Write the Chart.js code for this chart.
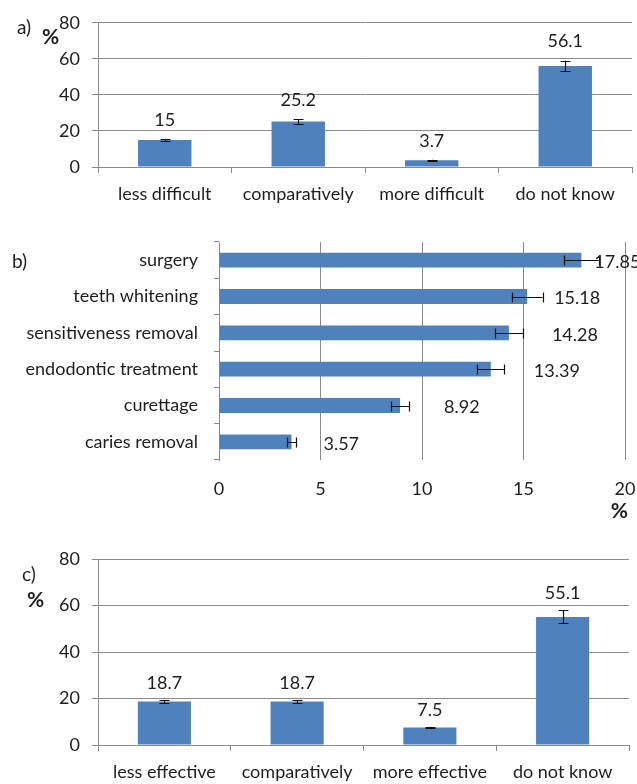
<!DOCTYPE html>
<html>
<head>
<meta charset="utf-8">
<script src="https://cdn.jsdelivr.net/npm/chart.js@4"></script>
<style>
  html, body { margin: 0; padding: 0; background: #fff; }
  body { width: 637px; height: 784px; position: relative; overflow: hidden; }
  canvas { position: absolute; left: 0; }
</style>
</head>
<body>
<canvas id="ca" width="637" height="210" style="top:0px"></canvas>
<canvas id="cb" width="637" height="320" style="top:210px"></canvas>
<canvas id="cc" width="637" height="254" style="top:530px"></canvas>
<script>
// ---------- DATA ----------
const aCategories = ['less difficult', 'comparatively', 'more difficult', 'do not know'];
const aValues = [15, 25.2, 3.7, 56.1];
const aErrors = [0.5, 1.2, 0.3, 2.9];

const bCategories = ['surgery', 'teeth whitening', 'sensitiveness removal', 'endodontic treatment', 'curettage', 'caries removal'];
const bValues = [17.85, 15.18, 14.28, 13.39, 8.92, 3.57];
const bErrors = [0.85, 0.76, 0.7, 0.67, 0.45, 0.22];

const cCategories = ['less effective', 'comparatively', 'more effective', 'do not know'];
const cValues = [18.7, 18.7, 7.5, 55.1];
const cErrors = [0.65, 0.65, 0.3, 2.8];

const verticalTicks = [0, 20, 40, 60, 80];
const horizontalTicks = [0, 5, 10, 15, 20];

// ---------- STYLE ----------
const FONT = 'Lato, "Open Sans", "Liberation Sans", sans-serif';
const FS = 18;
const BAR = '#4f81bd';
const GRID = '#8a8a8a';
const TEXT = '#1e1e1e';
const bLabelGap = [13, 27, 43, 43, 44, 32]; // label distance from bar end, px

Chart.defaults.font.family = FONT;
Chart.defaults.font.size = FS;
Chart.defaults.color = TEXT;
Chart.defaults.animation = false;

// plugin: error bars + value labels + panel annotations
const decorations = {
  id: 'decorations',
  afterDatasetsDraw(chart, args, opts) {
    const ctx = chart.ctx;
    const ds = chart.data.datasets[0];
    const meta = chart.getDatasetMeta(0);
    const horiz = chart.options.indexAxis === 'y';
    const vScale = horiz ? chart.scales.x : chart.scales.y;
    ctx.save();
    ctx.strokeStyle = '#111';
    ctx.lineWidth = 1.2;
    ctx.fillStyle = TEXT;
    ctx.font = FS + 'px ' + FONT;
    meta.data.forEach((bar, i) => {
      const v = ds.data[i], e = opts.errors[i];
      const lo = vScale.getPixelForValue(v - e), hi = vScale.getPixelForValue(v + e);
      ctx.beginPath();
      if (horiz) {
        const y = Math.round(bar.y) + 0.5;
        ctx.moveTo(lo, y); ctx.lineTo(hi, y);
        ctx.moveTo(Math.round(lo) + 0.5, y - 5); ctx.lineTo(Math.round(lo) + 0.5, y + 5);
        ctx.moveTo(Math.round(hi) + 0.5, y - 5); ctx.lineTo(Math.round(hi) + 0.5, y + 5);
      } else {
        const x = Math.round(bar.x) + 0.5;
        ctx.moveTo(x, lo); ctx.lineTo(x, hi);
        ctx.moveTo(x - 5, Math.round(lo) + 0.5); ctx.lineTo(x + 5, Math.round(lo) + 0.5);
        ctx.moveTo(x - 5, Math.round(hi) + 0.5); ctx.lineTo(x + 5, Math.round(hi) + 0.5);
      }
      ctx.stroke();
      // value label
      ctx.font = FS + 'px ' + FONT;
      if (horiz) {
        ctx.textAlign = 'left';
        ctx.textBaseline = 'middle';
        ctx.fillText(String(v), vScale.getPixelForValue(v) + opts.gaps[i], bar.y + 2);
      } else {
        ctx.textAlign = 'center';
        ctx.textBaseline = 'middle';
        ctx.fillText(String(v), bar.x, hi - opts.labelGap);
      }
    });
    // annotations
    (opts.texts || []).forEach(t => {
      ctx.font = (t.bold ? 'bold ' : '') + t.size + 'px ' + FONT;
      ctx.textAlign = t.align || 'left';
      ctx.textBaseline = 'middle';
      ctx.fillText(t.text, t.x, t.y);
    });
    ctx.restore();
  }
};

function verticalChart(id, cats, vals, errs, axisW, padTop, padRight, xAxisH, texts, labelGap) {
  return new Chart(document.getElementById(id), {
    type: 'bar',
    data: { labels: cats, datasets: [{ data: vals, backgroundColor: BAR, borderWidth: 0,
      barPercentage: 0.4, categoryPercentage: 1 }] },
    options: {
      responsive: false,
      layout: { padding: { top: padTop, right: padRight, left: 0, bottom: 0 } },
      plugins: { legend: { display: false }, tooltip: { enabled: false },
        decorations: { errors: errs, labelGap: labelGap, texts: texts } },
      scales: {
        x: {
          grid: { offset: true, drawOnChartArea: false, color: GRID, tickLength: 6 },
          border: { color: GRID },
          ticks: { padding: 10, font: { size: FS }, maxRotation: 0, autoSkip: false },
          afterFit: s => { s.height = xAxisH; }
        },
        y: {
          min: 0, max: 80,
          afterBuildTicks: s => { s.ticks = verticalTicks.map(v => ({ value: v })); },
          grid: { color: GRID, tickLength: 6 },
          border: { color: GRID },
          ticks: { padding: 12, font: { size: FS } },
          afterFit: s => { s.width = axisW; }
        }
      }
    },
    plugins: [decorations]
  });
}

// a)
verticalChart('ca', aCategories, aValues, aErrors, 98, 17, 5, 43, [
  { text: 'a)', x: 17, y: 28, size: 19 },
  { text: '%', x: 42, y: 37, size: 21, bold: true }
], 19);

// b)
new Chart(document.getElementById('cb'), {
  type: 'bar',
  data: { labels: bCategories, datasets: [{ data: bValues, backgroundColor: BAR, borderWidth: 0,
    barPercentage: 0.41, categoryPercentage: 1 }] },
  options: {
    indexAxis: 'y',
    responsive: false,
    layout: { padding: { top: 32, right: 12, left: 0, bottom: 0 } },
    plugins: { legend: { display: false }, tooltip: { enabled: false },
      decorations: { errors: bErrors, gaps: bLabelGap, texts: [
        { text: 'b)', x: 12, y: 52, size: 19 },
        { text: '%', x: 628, y: 301, size: 21, bold: true, align: 'right' }
      ] } },
    scales: {
      x: {
        min: 0, max: 20,
        afterBuildTicks: s => { s.ticks = horizontalTicks.map(v => ({ value: v })); },
        grid: { color: GRID, drawTicks: true, tickLength: 18, tickColor: 'rgba(0,0,0,0)' },
        border: { display: false },
        ticks: { padding: 0, font: { size: FS } },
        afterFit: s => { s.height = 70; }
      },
      y: {
        grid: { offset: true, drawOnChartArea: false, color: GRID, tickLength: 5 },
        border: { color: GRID },
        ticks: { padding: 16, font: { size: FS }, autoSkip: false },
        afterFit: s => { s.width = 219; }
      }
    }
  },
  plugins: [decorations]
});

// c)
verticalChart('cc', cCategories, cValues, cErrors, 98, 29, 8, 39, [
  { text: 'c)', x: 22, y: 45, size: 19 },
  { text: '%', x: 27, y: 70, size: 21, bold: true }
], 17);
</script>
</body>
</html>
